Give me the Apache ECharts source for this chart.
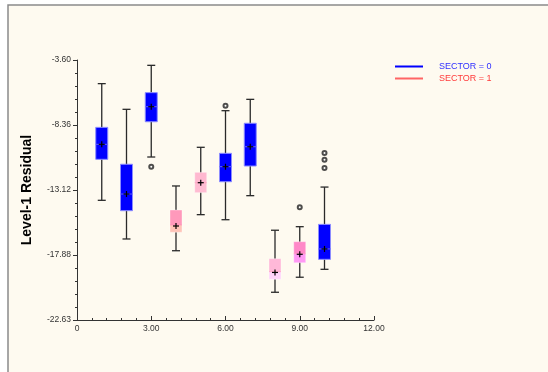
<!DOCTYPE html>
<html>
<head>
<meta charset="utf-8">
<script src="https://cdn.jsdelivr.net/npm/echarts@6/dist/echarts.min.js"></script>
<style>
html,body{margin:0;padding:0;background:#ffffff;}
#chart{width:548px;height:372px;}
</style>
</head>
<body>
<div id="chart"></div>
<script>
// ---- data ----
const categories   = [1, 2, 3, 4, 5, 6, 7, 8, 9, 10];
const sector       = [0, 0, 0, 1, 1, 0, 0, 1, 1, 0];
const whiskerHigh  = [-5.33, -7.21, -3.99, -12.82, -9.99, -7.31, -6.48, -16.06, -15.80, -12.90];
const q3           = [-8.53, -11.23, -5.99, -14.58, -11.82, -10.43, -8.23, -18.14, -16.90, -15.63];
const median       = [-9.77, -13.41, -7.02, -15.68, -12.58, -11.41, -9.95, -19.09, -17.78, -17.43];
const q1           = [-10.87, -14.63, -8.12, -16.21, -13.31, -12.51, -11.36, -19.65, -18.44, -18.19];
const whiskerLow   = [-13.87, -16.70, -10.70, -17.56, -14.92, -15.29, -13.53, -20.60, -19.50, -18.92];
const meanVal      = [-9.77, -13.41, -7.02, -15.75, -12.58, -11.41, -9.95, -19.15, -17.82, -17.43];
const outliers     = [[3, -11.41], [6, -6.94], [9, -14.38], [10, -10.41], [10, -10.90], [10, -11.50]];
const yTickLabels  = ['-22.63', '-17.88', '-13.12', '-8.36', '-3.60'];
const xTickLabels  = {0: '0', 3: '3.00', 6: '6.00', 9: '9.00', 12: '12.00'};
const sectorNames  = ['SECTOR = 0', 'SECTOR = 1'];

// ---- styles ----
const Y_MIN = -22.63, Y_MAX = -3.60;
const Y_INT = (Y_MAX - Y_MIN) / 4;
const fills = {
  1: ['#0000ff', '#0000ff'], 2: ['#0000ff', '#0000ff'], 3: ['#0000ff', '#0000ff'],
  4: ['#ff99bb', '#ffc4b8'], 5: ['#ffb8d0', '#ffbcd2'],
  6: ['#0000ff', '#0000ff'], 7: ['#0000ff', '#0000ff'],
  8: ['#ffb8d8', '#ffd4fa'], 9: ['#ff88c8', '#ff99f4'], 10: ['#0000ff', '#0000ff']
};
const FONT = 'Arial, "Liberation Sans", sans-serif';

function boxData(sec) {
  const out = [];
  categories.forEach((c, i) => {
    if (sector[i] === sec) {
      out.push([c, whiskerLow[i], q1[i], median[i], q3[i], whiskerHigh[i], meanVal[i]]);
    }
  });
  return out;
}

function renderBox(params, api) {
  const x = api.value(0);
  const pLow = api.coord([x, api.value(1)]);
  const pQ1 = api.coord([x, api.value(2)]);
  const pMed = api.coord([x, api.value(3)]);
  const pQ3 = api.coord([x, api.value(4)]);
  const pHigh = api.coord([x, api.value(5)]);
  const pMean = api.coord([x, api.value(6)]);
  const cx = pMed[0];
  const hw = 6, cap = 4, pl = 3;
  const blue = (fills[x][0] === '#0000ff');
  const f = fills[x];
  const lineStyle = {stroke: '#2a2a2a', lineWidth: 1.3};
  return {
    type: 'group',
    children: [
      {type: 'line', shape: {x1: cx, y1: pHigh[1], x2: cx, y2: pLow[1]}, style: lineStyle},
      {type: 'line', shape: {x1: cx - cap, y1: pHigh[1], x2: cx + cap, y2: pHigh[1]}, style: lineStyle},
      {type: 'line', shape: {x1: cx - cap, y1: pLow[1], x2: cx + cap, y2: pLow[1]}, style: lineStyle},
      {type: 'rect', shape: {x: cx - hw, y: pQ3[1], width: 2 * hw, height: pMed[1] - pQ3[1]}, style: {fill: f[0]}},
      {type: 'rect', shape: {x: cx - hw, y: pMed[1], width: 2 * hw, height: pQ1[1] - pMed[1]}, style: {fill: f[1]}},
      {type: 'rect', shape: {x: cx - hw, y: pQ3[1], width: 2 * hw, height: pQ1[1] - pQ3[1]},
        style: {fill: null, stroke: blue ? '#8c8cff' : 'rgba(255,255,255,0.35)', lineWidth: 1}},
      {type: 'line', shape: {x1: cx - hw, y1: pMed[1], x2: cx + hw, y2: pMed[1]},
        style: {stroke: blue ? '#5a5aff' : 'rgba(255,140,180,0.6)', lineWidth: 1}},
      {type: 'line', shape: {x1: cx - pl, y1: pMean[1], x2: cx + pl, y2: pMean[1]}, style: {stroke: '#000', lineWidth: 1.2}},
      {type: 'line', shape: {x1: cx, y1: pMean[1] - pl, x2: cx, y2: pMean[1] + pl}, style: {stroke: '#000', lineWidth: 1.2}}
    ]
  };
}

const chart = echarts.init(document.getElementById('chart'), null, {renderer: 'canvas'});
chart.setOption({
  backgroundColor: '#ffffff',
  animation: false,
  graphic: [{
    type: 'rect', z: -100, silent: true,
    shape: {x: 8, y: 5, width: 700, height: 500},
    style: {fill: '#fefaf0', stroke: '#8a8a8a', lineWidth: 1.5}
  }],
  legend: {
    orient: 'vertical', left: 390, top: 57,
    itemWidth: 28, itemHeight: 2, itemGap: 3, icon: 'rect',
    textStyle: {fontSize: 9, fontFamily: FONT, padding: [0, 0, 0, 11]},
    data: [
      {name: sectorNames[0], itemStyle: {color: '#0000ff'}, textStyle: {color: '#3030ff'}},
      {name: sectorNames[1], itemStyle: {color: '#ff6464'}, textStyle: {color: '#ff3a3a'}}
    ]
  },
  grid: {left: 77, top: 60, width: 297, height: 260, containLabel: false},
  xAxis: {
    type: 'value', min: 0, max: 12, interval: 3,
    axisLine: {onZero: false, lineStyle: {color: '#333', width: 1}},
    axisTick: {inside: true, length: 4, lineStyle: {color: '#333'}},
    minorTick: {show: true, splitNumber: 5, length: 2, lineStyle: {color: '#333'}},
    splitLine: {show: false},
    axisLabel: {fontSize: 8.5, fontFamily: FONT, color: '#333', margin: 4,
      formatter: v => xTickLabels[Math.round(v)] !== undefined ? xTickLabels[Math.round(v)] : ''}
  },
  yAxis: {
    type: 'value', min: Y_MIN, max: Y_MAX, interval: Y_INT,
    name: 'Level-1 Residual', nameLocation: 'middle', nameRotate: 90, nameGap: 43,
    nameTextStyle: {fontSize: 14, fontWeight: 'bold', fontFamily: FONT, color: '#000'},
    axisLine: {onZero: false, lineStyle: {color: '#333', width: 1}},
    axisTick: {inside: false, length: 4, lineStyle: {color: '#333'}},
    minorTick: {show: true, splitNumber: 5, length: 2, lineStyle: {color: '#333'}},
    splitLine: {show: false},
    axisLabel: {fontSize: 8.5, fontFamily: FONT, color: '#333', margin: 6,
      formatter: v => yTickLabels[Math.round((v - Y_MIN) / Y_INT)] || ''}
  },
  series: [
    {name: sectorNames[0], type: 'custom', renderItem: renderBox, data: boxData(0),
      itemStyle: {color: '#0000ff'}, encode: {x: 0, y: [1, 2, 3, 4, 5]}, z: 2},
    {name: sectorNames[1], type: 'custom', renderItem: renderBox, data: boxData(1),
      itemStyle: {color: '#ff6464'}, encode: {x: 0, y: [1, 2, 3, 4, 5]}, z: 2},
    {name: 'outliers', type: 'scatter', data: outliers, symbol: 'emptyCircle', symbolSize: 4,
      itemStyle: {color: '#222', borderColor: '#222', borderWidth: 0.9}, z: 3}
  ]
});
</script>
</body>
</html>
